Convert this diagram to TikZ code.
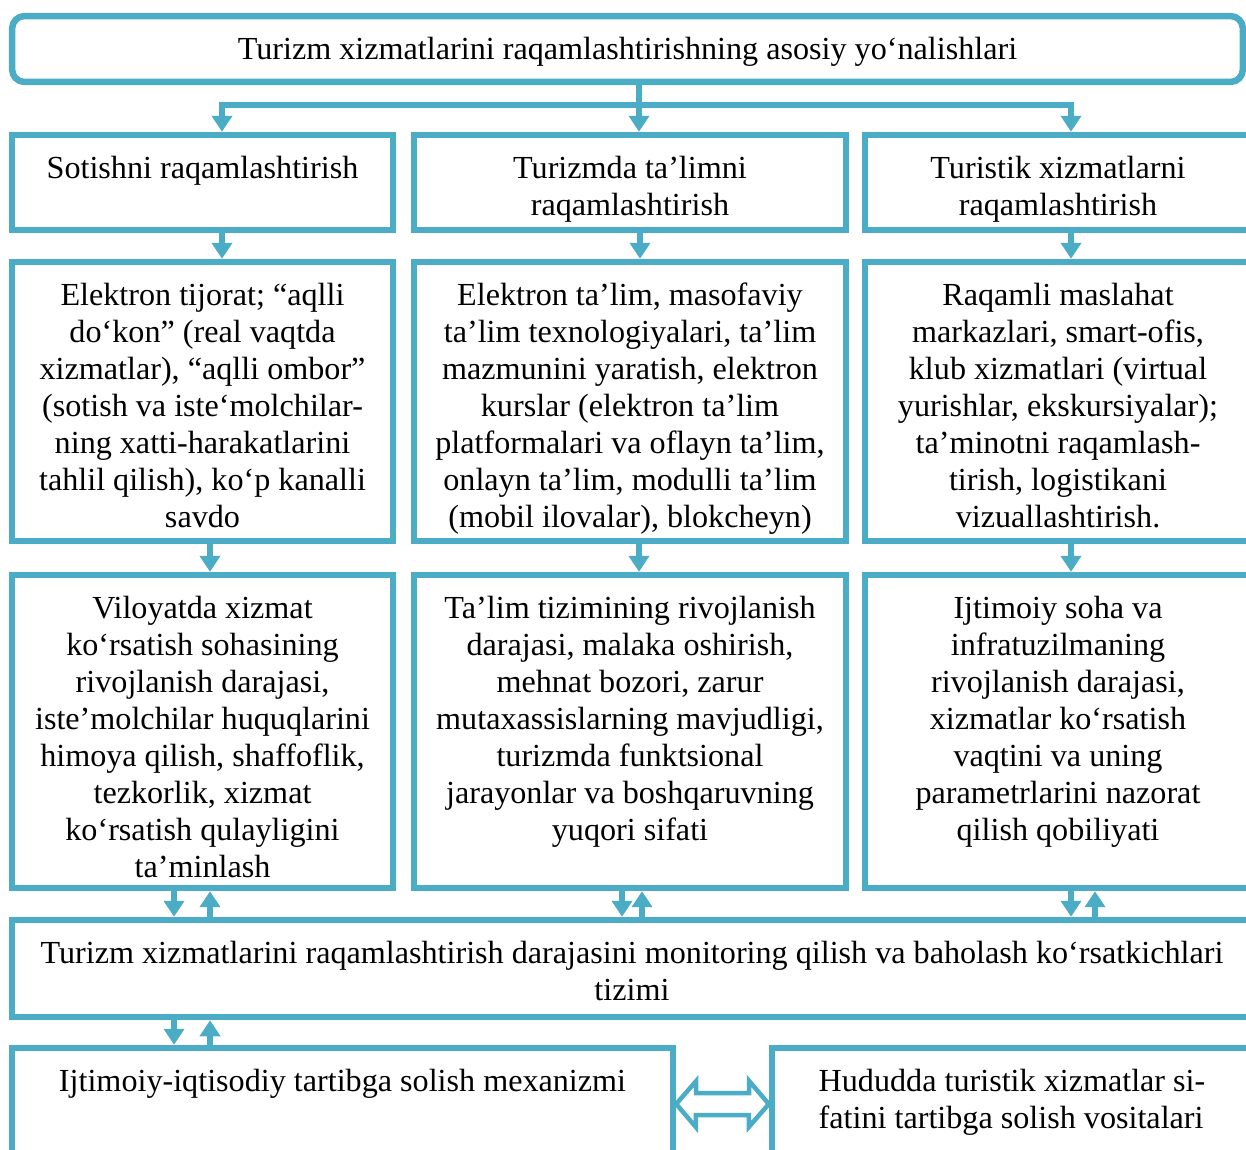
\documentclass[tikz,border=0pt]{standalone}
\usepackage{fontspec}
\setmainfont{Liberation Serif}
\usetikzlibrary{arrows.meta, positioning, calc}
\definecolor{TurBlue}{HTML}{4BACC6}
\tikzset{
  box/.style={draw=TurBlue, line width=0.13cm, inner sep=0pt},
  txt/.style={anchor=north, yshift=-0.48cm, inner sep=0pt, align=center, font=\fontsize{18.3}{21.06}\selectfont},
  arrow/.style={-{Triangle[width=0.4cm, length=0.32cm]}, line width=0.13cm, draw=TurBlue},
  bus/.style={line width=0.13cm, draw=TurBlue},
  dblarrow/.style={draw=TurBlue, line width=0.09cm, fill=white, line join=miter}
}

\begin{document}
\begin{tikzpicture}[x=0.02cm, y=-0.02cm]
\useasboundingbox (0,0) rectangle (1246,1149);
\clip (0,0) rectangle (1246,1149);
\node[box, rounded corners=0.25cm, minimum width=24.62cm, minimum height=1.32cm, label={[txt]north:Turizm xizmatlarini raqamlashtirishning asosiy yo‘nalishlari}] (top) at (627.5,49) {};

\node[box, minimum width=7.62cm, minimum height=1.9cm, label={[txt]north:Sotishni raqamlashtirish}] (b11) at (202.5,182.5) {};
\node[box, minimum width=8.64cm, minimum height=1.9cm, label={[txt]north:{Turizmda ta’limni\\raqamlashtirish}}] (b12) at (630,182.5) {};
\node[box, minimum width=7.72cm, minimum height=1.9cm, label={[txt]north:{Turistik xizmatlarni\\raqamlashtirish}}] (b13) at (1058,182.5) {};

\node[box, minimum width=7.62cm, minimum height=5.58cm, label={[txt]north:{Elektron tijorat; “aqlli\\do‘kon” (real vaqtda\\xizmatlar), “aqlli ombor”\\(sotish va iste‘molchilar-\\ning xatti-harakatlarini\\tahlil qilish), ko‘p kanalli\\savdo}}] (b21) at (202.5,401.5) {};
\node[box, minimum width=8.64cm, minimum height=5.58cm, label={[txt]north:{Elektron ta’lim, masofaviy\\ta’lim texnologiyalari, ta’lim\\mazmunini yaratish, elektron\\kurslar (elektron ta’lim\\platformalari va oflayn ta’lim,\\onlayn ta’lim, modulli ta’lim\\(mobil ilovalar), blokcheyn)}}] (b22) at (630,401.5) {};
\node[box, minimum width=7.72cm, minimum height=5.58cm, label={[txt]north:{Raqamli maslahat\\markazlari, smart-ofis,\\klub xizmatlari (virtual\\yurishlar, ekskursiyalar);\\ta’minotni raqamlash-\\tirish, logistikani\\vizuallashtirish.}}] (b23) at (1058,401.5) {};

\node[box, minimum width=7.62cm, minimum height=6.26cm, label={[txt]north:{Viloyatda xizmat\\ko‘rsatish sohasining\\rivojlanish darajasi,\\iste’molchilar huquqlarini\\himoya qilish, shaffoflik,\\tezkorlik, xizmat\\ko‘rsatish qulayligini\\ta’minlash}}] (b31) at (202.5,731.5) {};
\node[box, minimum width=8.64cm, minimum height=6.26cm, label={[txt]north:{Ta’lim tizimining rivojlanish\\darajasi, malaka oshirish,\\mehnat bozori, zarur\\mutaxassislarning mavjudligi,\\turizmda funktsional\\jarayonlar va boshqaruvning\\yuqori sifati}}] (b32) at (630,731.5) {};
\node[box, minimum width=7.72cm, minimum height=6.26cm, label={[txt]north:{Ijtimoiy soha va\\infratuzilmaning\\rivojlanish darajasi,\\xizmatlar ko‘rsatish\\vaqtini va uning\\parametrlarini nazorat\\qilish qobiliyati}}] (b33) at (1058,731.5) {};

\node[box, minimum width=24.8cm, minimum height=1.94cm, label={[txt]north:{Turizm xizmatlarini raqamlashtirish darajasini monitoring qilish va baholash ko‘rsatkichlari\\tizimi}}] (mon) at (632,968.5) {};

\node[box, minimum width=13.22cm, minimum height=2.24cm, label={[txt]north:Ijtimoiy-iqtisodiy tartibga solish mexanizmi}] (bl) at (342.5,1104) {};
\node[box, minimum width=9.6cm, minimum height=2.24cm, label={[txt, align=left]north:{Hududda turistik xizmatlar si-\\fatini tartibga solish vositalari}}] (br) at (1012,1104) {};

\coordinate (bus) at ([xshift=0.23cm, yshift=-0.4cm]top.south);
\draw[bus] ([xshift=0.23cm]top.south) -- (bus);
\draw[arrow] (bus) -- (bus |- b12.north);
\draw[arrow] (bus) -| ([xshift=0.39cm]b11.north);
\draw[arrow] (bus) -| ([xshift=0.26cm]b13.north);

\draw[arrow] ([xshift=0.39cm]b11.south) -- ([xshift=0.39cm]b21.north);
\draw[arrow] ([xshift=0.2cm]b12.south) -- ([xshift=0.2cm]b22.north);
\draw[arrow] ([xshift=0.26cm]b13.south) -- ([xshift=0.26cm]b23.north);

\draw[arrow] ([xshift=0.15cm]b21.south) -- ([xshift=0.15cm]b31.north);
\draw[arrow] ([xshift=0.18cm]b22.south) -- ([xshift=0.18cm]b32.north);
\draw[arrow] ([xshift=0.26cm]b23.south) -- ([xshift=0.26cm]b33.north);

\draw[arrow] ([xshift=-0.57cm]b31.south) -- ([xshift=-0.57cm]b31.south |- mon.north);
\draw[arrow] ([xshift=0.15cm]b31.south |- mon.north) -- ([xshift=0.15cm]b31.south);
\draw[arrow] ([xshift=-0.16cm]b32.south) -- ([xshift=-0.16cm]b32.south |- mon.north);
\draw[arrow] ([xshift=0.24cm]b32.south |- mon.north) -- ([xshift=0.24cm]b32.south);
\draw[arrow] ([xshift=0.26cm]b33.south) -- ([xshift=0.26cm]b33.south |- mon.north);
\draw[arrow] ([xshift=0.74cm]b33.south |- mon.north) -- ([xshift=0.74cm]b33.south);

\draw[arrow] ([xshift=-3.37cm]bl.north |- mon.south) -- ([xshift=-3.37cm]bl.north);
\draw[arrow] ([xshift=-2.65cm]bl.north) -- ([xshift=-2.65cm]bl.north |- mon.south);

\draw[dblarrow] (bl.east) -- ++(20,-23) -- ++(0,12) -- ++(53,0) -- ++(0,-12) -- (br.west) -- ++(-20,23) -- ++(0,-12) -- ++(-53,0) -- ++(0,12) -- cycle;
\end{tikzpicture}
\end{document}
